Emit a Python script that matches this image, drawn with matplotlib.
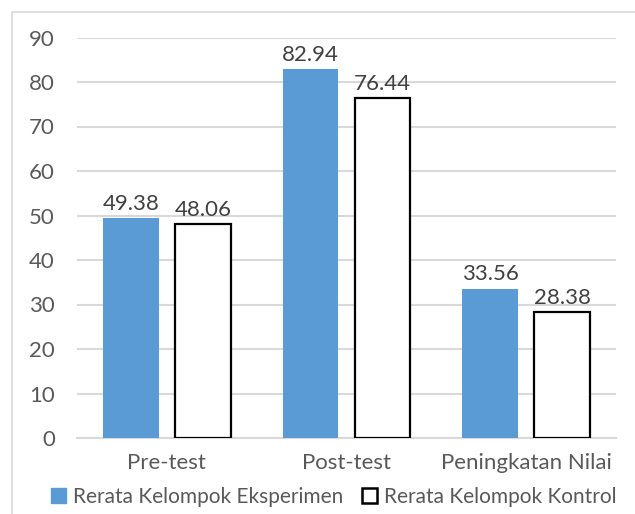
import matplotlib
matplotlib.use("Agg")
import matplotlib.pyplot as plt
from matplotlib.patches import Patch, Rectangle
import numpy as np

categories = ["Pre-test", "Post-test", "Peningkatan Nilai"]
eksperimen = [49.38, 82.94, 33.56]
kontrol = [48.06, 76.44, 28.38]
series_names = ["Rerata Kelompok Eksperimen", "Rerata Kelompok Kontrol"]
yticks = list(range(0, 100, 10))

BLUE = "#5B9BD5"
GRID = "#D9D9D9"
TXT = "#595959"
FS = 16

plt.rcParams["font.family"] = ["Lato", "DejaVu Sans"]

fig = plt.figure(figsize=(6.35, 5.14), dpi=100)
ax = fig.add_axes([77 / 635, 1 - 438 / 514, (616 - 77) / 635, (438 - 37.5) / 514])

x = np.arange(len(categories))
w = 0.31
b1 = ax.bar(x - 0.2, eksperimen, w, color=BLUE, zorder=3)
b2 = ax.bar(x + 0.2, kontrol, w, color="white", edgecolor="black", linewidth=1.6, zorder=3)

for bars, vals in ((b1, eksperimen), (b2, kontrol)):
    for r, v in zip(bars, vals):
        ax.annotate(f"{v:.2f}", (r.get_x() + r.get_width() / 2, v), xytext=(0, 3),
                    textcoords="offset points", ha="center", va="bottom",
                    fontsize=FS, color="#404040")

ax.set_ylim(0, 90)
ax.set_xlim(-0.5, 2.5)
ax.set_yticks(yticks)
ax.yaxis.grid(True, color=GRID, linewidth=1.5, zorder=0)
ax.set_axisbelow(True)
for s in ("top", "right", "left"):
    ax.spines[s].set_visible(False)
ax.spines["bottom"].set_color(GRID)
ax.spines["bottom"].set_linewidth(1.5)
ax.tick_params(axis="y", length=0, pad=16, labelsize=FS, labelcolor=TXT)
ax.set_xticks(x)
ax.set_xticklabels(categories)
ax.tick_params(axis="x", length=0, pad=11, labelsize=FS, labelcolor=TXT)

handles = [Patch(facecolor=BLUE, edgecolor=BLUE),
           Patch(facecolor="white", edgecolor="black", linewidth=1.8)]
fig.legend(handles, series_names, loc="center", bbox_to_anchor=(334 / 635, 1 - 497 / 514),
           ncol=2, frameon=False, fontsize=15, handlelength=0.7, handleheight=0.7,
           handletextpad=0.35, columnspacing=0.9, labelcolor=TXT, borderaxespad=0,
           borderpad=0)

# outer chart border (cropped on right and bottom)
fig.patches.append(Rectangle((12 / 635, -0.1), 1.2, 1 - 12 / 514 + 0.1,
                             transform=fig.transFigure, fill=False,
                             edgecolor=GRID, linewidth=1.2))

fig.savefig("out.png", dpi=100)
